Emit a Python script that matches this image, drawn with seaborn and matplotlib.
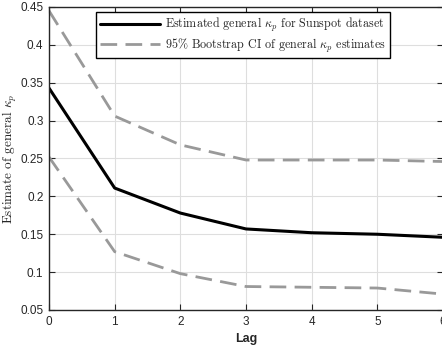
import numpy as np
import pandas as pd
import matplotlib
matplotlib.use("Agg")
import matplotlib.pyplot as plt
import seaborn as sns

# values
lags = [0, 1, 2, 3, 4, 5, 6]
kappa_est = [0.343, 0.211, 0.178, 0.157, 0.152, 0.150, 0.146]
ci_upper = [0.445, 0.306, 0.268, 0.248, 0.248, 0.248, 0.246]
ci_lower = [0.252, 0.127, 0.098, 0.081, 0.080, 0.079, 0.071]

sns.set_style("ticks")
plt.rcParams['font.family'] = ['Liberation Sans', 'DejaVu Sans']
plt.rcParams['mathtext.fontset'] = 'cm'

df = pd.DataFrame({'lag': lags, 'est': kappa_est, 'up': ci_upper, 'lo': ci_lower})

fig = plt.figure(figsize=(4.42, 3.53), dpi=100)
ax = fig.add_axes([49 / 442, 1 - 310 / 353, 394 / 442, 303 / 353])

serif = 'cmr10'
sns.lineplot(data=df, x='lag', y='est', ax=ax, color='black', lw=2.2,
             label=r'Estimated general $\kappa_p$ for Sunspot dataset')
sns.lineplot(data=df, x='lag', y='up', ax=ax, color='#999999', lw=2.0,
             dashes=(6, 3), label=r'95% Bootstrap CI of general $\kappa_p$ estimates')
sns.lineplot(data=df, x='lag', y='lo', ax=ax, color='#999999', lw=2.0,
             dashes=(6, 3), label='_nolegend_')

ax.set_xlim(0, 6)
ax.set_ylim(0.05, 0.45)
ax.set_xticks(lags)
ax.set_xticklabels([str(v) for v in lags])
yt = [0.05, 0.1, 0.15, 0.2, 0.25, 0.3, 0.35, 0.4, 0.45]
ax.set_yticks(yt)
ax.set_yticklabels(['0.05', '0.1', '0.15', '0.2', '0.25', '0.3', '0.35', '0.4', '0.45'])
ax.grid(True, color='#dedede', lw=0.8)
ax.tick_params(direction='in', top=True, right=True, labelsize=8.5, length=4,
               width=0.8, colors='#262626', labelcolor='#262626', pad=4)
for s in ax.spines.values():
    s.set_linewidth(1.0)
    s.set_color('#262626')
    s.set_visible(True)

ax.set_xlabel('Lag', fontsize=9, fontweight='bold', labelpad=4)
ax.set_ylabel(r'Estimate of general $\kappa_p$', fontsize=9.5, family=serif, labelpad=1)

leg = ax.legend(loc='upper left', bbox_to_anchor=(0.119, 0.984),
                prop={'family': serif, 'size': 8.7}, handlelength=5.0,
                frameon=True, fancybox=False, borderpad=0.3, labelspacing=0.15,
                handletextpad=0.4, borderaxespad=0)
leg.get_frame().set_edgecolor('black')
leg.get_frame().set_linewidth(1.0)
leg.get_frame().set_alpha(1)

fig.savefig('out.png', dpi=100)
